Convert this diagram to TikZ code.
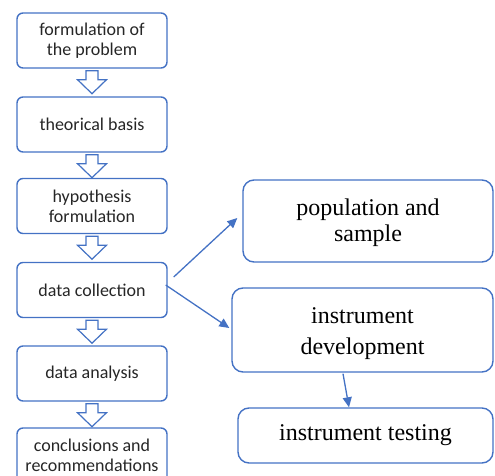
\documentclass[tikz,border=0pt]{standalone}
\usepackage{fontspec}
\setmainfont{Liberation Serif}
\newfontfamily\calib{Carlito}
\usetikzlibrary{arrows.meta,calc}
\definecolor{obl}{HTML}{4472C4}
\tikzset{
  lbox/.style={draw=obl,line width=1.4pt,rounded corners=6pt,minimum width=150pt,minimum height=55pt,align=center,font=\calib\fontsize{18}{20}\selectfont,inner sep=0pt,text=black!85},
  rbox/.style={draw=obl,line width=1.4pt,rounded corners=11pt,align=center,font=\fontsize{24}{27}\selectfont,inner sep=0pt},
  rtext/.style={align=center,inner sep=0pt},
  harrow/.style={draw=obl,line width=1.2pt,fill=white,line join=miter},
  conn/.style={draw=obl,line width=1.3pt,-{Triangle[length=10pt,width=9pt]}}
}
\newcommand\blockarr[1]{\draw[harrow,shift={(#1.south)}] (-6,2) -- (6,2) -- (6,11) -- (14.5,11) -- (0,25) -- (-14.5,11) -- (-6,11) -- cycle;}
\begin{document}
\begin{tikzpicture}[x=1pt,y=-1pt]
\useasboundingbox (0,0) rectangle (495,476);
\node[lbox] (b1) at (92,40.5) {formulation of\\the problem};
\node[lbox] (b2) at (92,124.5) {theorical basis};
\node[lbox] (b3) at (92,206) {hypothesis\\formulation};
\node[lbox] (b4) at (92,290) {data collection};
\node[lbox] (b5) at (92,373.5) {data analysis};
\node[lbox] (b6) at (92,455.5) {conclusions and\\recommendations};
\blockarr{b1}
\blockarr{b2}
\blockarr{b3}
\blockarr{b4}
\blockarr{b5}
\node[rbox,minimum width=250pt,minimum height=82pt] (pop) at (368,221) {};
\node[rtext,font=\fontsize{24}{26}\selectfont] (popt) at ($(pop.center)+(0,2)$) {population and\\sample};
\node[rbox,minimum width=261pt,minimum height=84pt] (dev) at (362.5,330) {};
\node[rtext,font=\fontsize{24}{31}\selectfont] (devt) at ($(dev.center)+(0,4)$) {instrument\\development};
\node[rbox,minimum width=255pt,minimum height=55pt] (test) at (365.5,435.5) {instrument testing};
\coordinate (s1) at ($(b4.east)+(6,-13)$);
\coordinate (e1) at ($(pop.west)+(-5,-3)$);
\coordinate (s2) at ($(b4.east)+(-2,-5)$);
\coordinate (e2) at ($(dev.west)+(-2,-2)$);
\coordinate (s3) at ($(dev.south)+(-19.5,1)$);
\coordinate (e3) at ($(test.north)+(-16.5,0)$);
\draw[conn] (s1) -- (e1);
\draw[conn] (s2) -- (e2);
\draw[conn] (s3) -- (e3);
\end{tikzpicture}
\end{document}
